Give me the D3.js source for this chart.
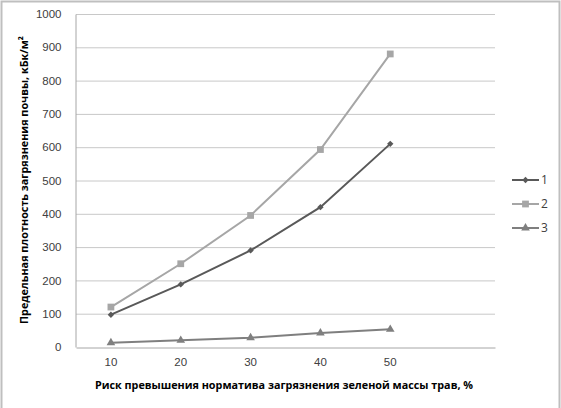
<!DOCTYPE html>
<html lang="ru">
<head>
<meta charset="UTF-8">
<script src="https://d3js.org/d3.v7.min.js"></script>
<style>
  body { margin: 0; background: #fff; }
  svg { display: block; font-family: "Open Sans", "Liberation Sans", sans-serif; }
  .tick text { font-size: 11.5px; fill: #404040; }
  .title { font-size: 10.8px; font-weight: bold; fill: #000; }
</style>
</head>
<body>
<svg width="561" height="408"></svg>
<script>
// categories (6th band left empty, as in the source chart)
const categories = ["10", "20", "30", "40", "50", ""];
const series1 = [97, 188, 290, 420, 610];
const series2 = [120, 250, 395, 593, 880];
const series3 = [13, 20, 28, 42, 53];
const seriesNames = ["1", "2", "3"];
const yTicks = [0, 100, 200, 300, 400, 500, 600, 700, 800, 900, 1000];

const svg = d3.select("svg");
const margin = { left: 76, top: 14, right: 495, bottom: 347 };

// outer frame
svg.append("rect").attr("x", 1.5).attr("y", 1.5).attr("width", 558).attr("height", 410)
  .attr("fill", "none").attr("stroke", "#bfbfbf").attr("stroke-width", 2);

const x = d3.scaleBand().domain(categories).range([margin.left, margin.right]);
const y = d3.scaleLinear().domain([0, 1000]).range([margin.bottom, margin.top]);

// gridlines
svg.append("g").selectAll("line").data(yTicks.filter(d => d > 0)).join("line")
  .attr("x1", margin.left).attr("x2", margin.right)
  .attr("y1", d => y(d) + 0.5).attr("y2", d => y(d) + 0.5)
  .attr("stroke", "#c8c8c8").attr("stroke-width", 1);

// y axis
const yAxis = svg.append("g").attr("transform", `translate(${margin.left - 0.5},0)`)
  .call(d3.axisLeft(y).tickValues(yTicks).tickFormat(d3.format("d")).tickSize(0).tickPadding(14));
yAxis.select(".domain").attr("stroke", "#a6a6a6");

// x axis
const xAxis = svg.append("g").attr("transform", `translate(0,${margin.bottom + 0.5})`)
  .call(d3.axisBottom(x).tickSize(0).tickPadding(10));
xAxis.select(".domain").attr("stroke", "#a6a6a6");

// series
const data = [
  { name: "1", values: series1, color: "#595959", shape: d3.symbolDiamond2, size: 26 },
  { name: "2", values: series2, color: "#a6a6a6", shape: d3.symbolSquare, size: 46 },
  { name: "3", values: series3, color: "#7f7f7f", shape: d3.symbolTriangle, size: 32 }
];

const line = d3.line()
  .x((d, i) => x(categories[i]) + x.bandwidth() / 2)
  .y(d => y(d));

data.forEach(s => {
  svg.append("path").datum(s.values)
    .attr("d", line)
    .attr("fill", "none")
    .attr("stroke", s.color)
    .attr("stroke-width", 2);
  svg.append("g").selectAll("path").data(s.values).join("path")
    .attr("transform", (d, i) => `translate(${x(categories[i]) + x.bandwidth() / 2},${y(d)})`)
    .attr("d", d3.symbol().type(s.shape).size(s.size))
    .attr("fill", s.color);
});

// legend
const legend = svg.append("g");
data.forEach((s, i) => {
  const ly = 180 + i * 24;
  legend.append("line").attr("x1", 512).attr("x2", 539).attr("y1", ly).attr("y2", ly)
    .attr("stroke", s.color).attr("stroke-width", 2);
  legend.append("path").attr("transform", `translate(525.5,${ly})`)
    .attr("d", d3.symbol().type(s.shape).size(s.size)).attr("fill", s.color);
  legend.append("text").attr("x", 541).attr("y", ly + 4)
    .attr("font-size", 12).attr("fill", "#404040").text(seriesNames[i]);
});

// axis titles
svg.append("text").attr("class", "title")
  .attr("x", 284).attr("y", 389).attr("text-anchor", "middle")
  .text("Риск превышения норматива загрязнения зеленой массы трав, %");

svg.append("text").attr("class", "title")
  .attr("transform", `translate(28,180) rotate(-90)`).attr("text-anchor", "middle")
  .text("Предельная плотность загрязнения почвы, кБк/м²");
</script>
</body>
</html>
